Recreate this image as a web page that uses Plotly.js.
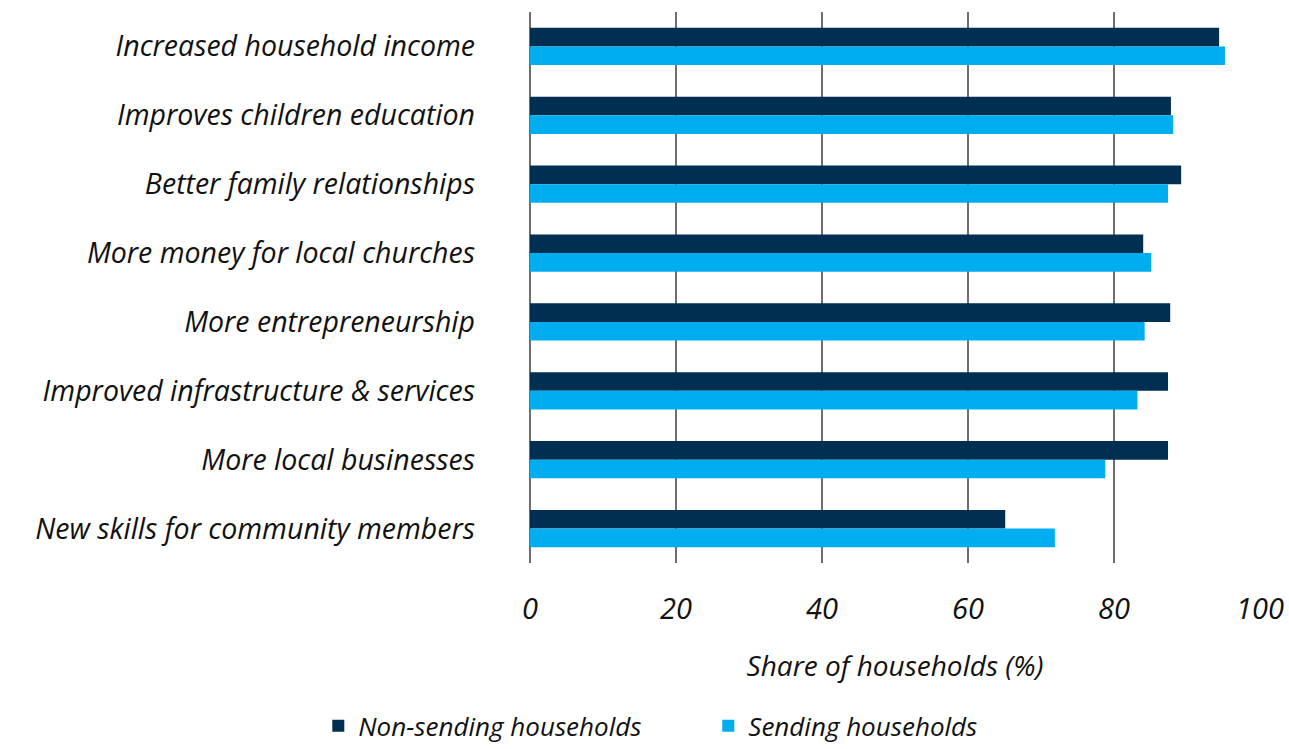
<!DOCTYPE html>
<html>
<head>
<meta charset="utf-8">
<script src="https://cdn.plot.ly/plotly-3.0.1.min.js"></script>
<style>html,body{margin:0;padding:0;background:#fff;}#chart{width:1289px;height:749px;}</style>
</head>
<body>
<div id="chart"></div>
<script>
const categories = [
  "Increased household income",
  "Improves children education",
  "Better family relationships",
  "More money for local churches",
  "More entrepreneurship",
  "Improved infrastructure & services",
  "More local businesses",
  "New skills for community members"
];
const nonSending = [94.4, 87.8, 89.2, 84.0, 87.7, 87.4, 87.4, 65.1];
const sending = [95.2, 88.1, 87.4, 85.1, 84.2, 83.2, 78.8, 71.9];
const xTicks = [0, 20, 40, 60, 80, 100];

const FONT = "'Open Sans', 'Noto Sans', sans-serif";

const traces = [
  {type: 'bar', orientation: 'h', name: 'Non-sending households', y: categories, x: nonSending,
   marker: {color: '#002f52'}, hoverinfo: 'x+y'},
  {type: 'bar', orientation: 'h', name: 'Sending households', y: categories, x: sending,
   marker: {color: '#00adef'}, hoverinfo: 'x+y'}
];

const layout = {
  width: 1289, height: 749,
  margin: {l: 530, r: 29, t: 12, b: 186, autoexpand: false},
  paper_bgcolor: '#fff', plot_bgcolor: '#fff',
  barmode: 'group', bargap: 0.46, bargroupgap: 0,
  font: {family: FONT, color: '#111', size: 26, style: 'italic'},
  xaxis: {
    range: [0, 100], tickvals: xTicks, ticktext: xTicks.map(String),
    showgrid: true, gridcolor: '#6e6e6e', gridwidth: 2,
    zeroline: true, zerolinecolor: '#6e6e6e', zerolinewidth: 2,
    showline: false, ticks: '', ticklabelstandoff: 26, automargin: false,
    tickfont: {family: FONT, size: 29, color: '#111', style: 'italic'},
    title: {text: 'Share of households (%)', standoff: 30,
            font: {family: FONT, size: 28, color: '#111', style: 'italic'}},
    fixedrange: true
  },
  yaxis: {
    autorange: 'reversed', showgrid: false, zeroline: false, showline: false,
    ticks: '', ticklabelstandoff: 54, automargin: false,
    tickfont: {family: FONT, size: 28.5, color: '#111', style: 'italic'},
    fixedrange: true
  },
  legend: {
    orientation: 'h', x: -0.29, xanchor: 'left', y: -0.253, yanchor: 'top',
    font: {family: FONT, size: 26, color: '#111', style: 'italic'},
    itemwidth: 30, entrywidth: 345, entrywidthmode: 'pixels', tracegroupgap: 0,
    borderwidth: 0
  },
  showlegend: true
};

Plotly.newPlot('chart', traces, layout, {displayModeBar: false, staticPlot: true});
</script>
</body>
</html>
